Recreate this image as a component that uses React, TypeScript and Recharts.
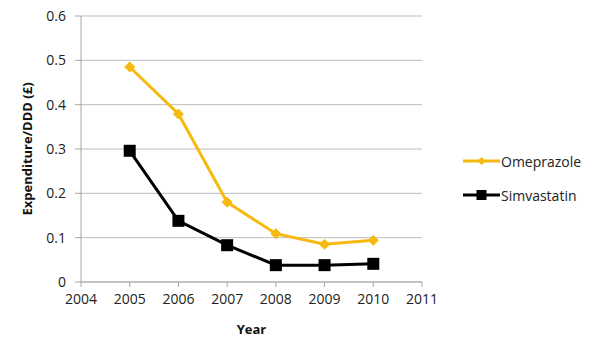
import React from 'react';
import { LineChart, Line, XAxis, YAxis, CartesianGrid, Legend, Label } from 'recharts';

const years = [2005, 2006, 2007, 2008, 2009, 2010];
const omeprazole = [0.485, 0.379, 0.18, 0.109, 0.085, 0.094];
const simvastatin = [0.296, 0.138, 0.083, 0.038, 0.038, 0.041];
const xTicks = [2004, 2005, 2006, 2007, 2008, 2009, 2010, 2011];
const yTicks = [0, 0.1, 0.2, 0.3, 0.4, 0.5, 0.6];

const data = years.map((y, i) => ({ year: y, Omeprazole: omeprazole[i], Simvastatin: simvastatin[i] }));

const YELLOW = '#F5B90F';
const BLACK = '#000000';
const FONT = '"Open Sans", "Noto Sans", sans-serif';

const Diamond = (props: any) => {
  const { cx, cy } = props;
  if (cx == null || cy == null) return null;
  const r = 5;
  return <path d={`M${cx},${cy - r}L${cx + r},${cy}L${cx},${cy + r}L${cx - r},${cy}Z`} fill={YELLOW} stroke={YELLOW} strokeWidth={1} />;
};

const Square = (props: any) => {
  const { cx, cy } = props;
  if (cx == null || cy == null) return null;
  const s = 12;
  return <rect x={cx - s / 2} y={cy - s / 2} width={s} height={s} fill={BLACK} />;
};

const LegendContent = (props: any) => {
  const { payload } = props;
  return (
    <div style={{ fontFamily: FONT, fontSize: 14, color: '#222' }}>
      {(payload || []).map((p: any, i: number) => (
        <div key={i} style={{ display: 'flex', alignItems: 'center', height: 34 }}>
          <svg width={37} height={14} style={{ display: 'block' }}>
            <line x1={0} y1={7} x2={37} y2={7} stroke={p.color} strokeWidth={3} />
            {p.value === 'Omeprazole' ? (
              <path d="M18.5,3L22.5,7L18.5,11L14.5,7Z" fill={p.color} />
            ) : (
              <rect x={13.5} y={2} width={10} height={10} fill={p.color} />
            )}
          </svg>
          <span style={{ marginLeft: 1 }}>{p.value}</span>
        </div>
      ))}
    </div>
  );
};

export default function App() {
  return (
    <div style={{ position: 'absolute', left: 0, top: 0, width: 600, height: 357, background: '#fff' }}>
      <LineChart width={600} height={357} data={data} margin={{ top: 16, right: 178, bottom: 45, left: 41 }}>
        <CartesianGrid horizontal={true} vertical={false} stroke="#bdbdbd" strokeWidth={1} />
        <XAxis
          dataKey="year"
          type="number"
          domain={[2004, 2011]}
          ticks={xTicks}
          interval={0}
          height={30}
          stroke="#a6a6a6"
          tickSize={5}
          tickMargin={7}
          tick={{ fill: '#222', fontSize: 14, fontFamily: FONT }}
        >
          <Label value="Year" position="insideBottom" offset={-22} style={{ fontWeight: 'bold', fontSize: 13, fill: '#111', fontFamily: FONT }} />
        </XAxis>
        <YAxis
          type="number"
          domain={[0, 0.6]}
          ticks={yTicks}
          interval={0}
          width={40}
          stroke="#a6a6a6"
          tickSize={6}
          tickMargin={9}
          tickFormatter={(v: number) => (v === 0 ? '0' : String(v))}
          tick={{ fill: '#222', fontSize: 14, fontFamily: FONT }}
        >
          <Label value="Expenditure/DDD (£)" angle={-90} position="insideLeft" offset={-14} style={{ textAnchor: 'middle', fontWeight: 'bold', fontSize: 13, fill: '#111', fontFamily: FONT }} />
        </YAxis>
        <Legend
          layout="horizontal"
          verticalAlign="middle"
          align="center"
          content={LegendContent}
          wrapperStyle={{ left: 463, top: 144, width: 137, height: 70 }}
        />
        <Line dataKey="Omeprazole" name="Omeprazole" stroke={YELLOW} strokeWidth={3} dot={<Diamond />} activeDot={false} isAnimationActive={false} />
        <Line dataKey="Simvastatin" name="Simvastatin" stroke={BLACK} strokeWidth={3} dot={<Square />} activeDot={false} isAnimationActive={false} />
      </LineChart>
    </div>
  );
}
